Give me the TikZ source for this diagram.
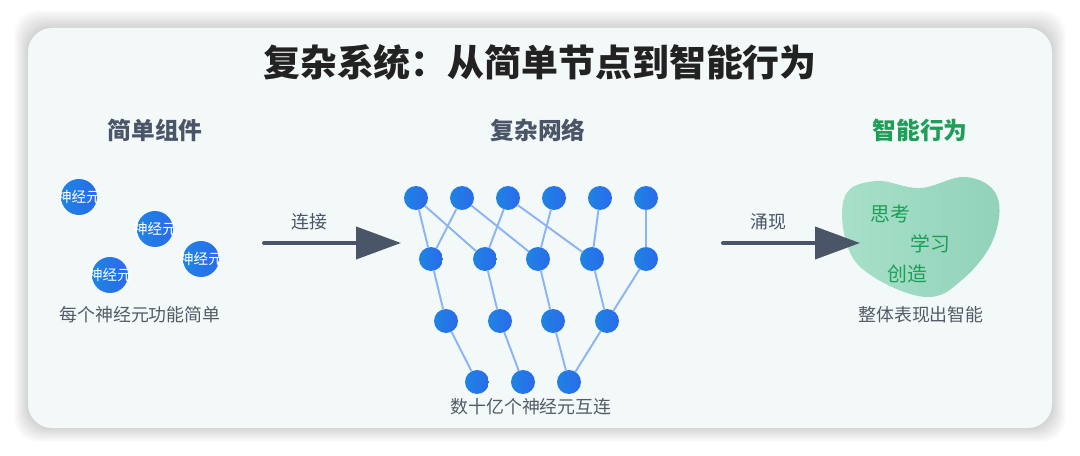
\documentclass[tikz,border=0pt]{standalone}
\usepackage{fontspec}
\setmainfont{Noto Sans CJK SC}
\usetikzlibrary{arrows.meta}
\definecolor{cardbg}{HTML}{F3F9F9}
\definecolor{slate}{HTML}{4A5568}
\definecolor{titleink}{HTML}{222222}
\definecolor{edgeblue}{HTML}{8DB4F2}
\definecolor{nblue}{HTML}{1E84E2}
\definecolor{nblueb}{HTML}{2A6AEC}
\definecolor{leafgreen}{HTML}{A8E0C9}
\definecolor{leafgreenb}{HTML}{92D2BA}
\definecolor{txtgreen}{HTML}{1E9E57}
\definecolor{txtgray}{HTML}{555B66}
\tikzset{
  neuron/.style={circle, minimum size=0.72cm, inner sep=0pt, left color=nblue, right color=nblueb, text=white, font=\fontsize{8.3}{9}\selectfont},
  cell/.style={circle, minimum size=0.48cm, inner sep=0pt, left color=nblue, right color=nblueb},
  link/.style={edgeblue, line width=1.1pt},
  flow/.style={slate, line width=2.3pt, -{Triangle[length=0.9cm, width=0.64cm]}},
  head/.style={font=\bfseries\fontsize{13.5}{16}\selectfont, text=slate},
  caption/.style={font=\fontsize{10.2}{12}\selectfont, text=txtgray},
  idea/.style={font=\fontsize{11.3}{13}\selectfont, text=txtgreen}
}
\begin{document}
\begin{tikzpicture}[x=0.02cm, y=-0.02cm, line cap=round, line join=round]
\useasboundingbox (0,0) rectangle (1080,456);
\fill[white] (0,0) rectangle (1080,456);
\foreach \k in {1,...,14}
  \fill[black, opacity=0.012, rounded corners=0.48cm] (28-\k,28-1.3*\k) rectangle (1052+\k,428+\k);
\fill[cardbg, rounded corners=0.48cm] (28,28) rectangle (1052,428);
\node[font=\bfseries\fontsize{21}{25}\selectfont, text=titleink] (title) at (540,62) {复杂系统：从简单节点到智能行为};
\node[head] (h1) at (155,130) {简单组件};
\node[head] (h2) at (538,130) {复杂网络};
\node[head, text=txtgreen] (h3) at (920,130) {智能行为};
\node[neuron] (n1) at (79,197) {\makebox[0pt]{神经元}};
\node[neuron] (n2) at (155,229) {\makebox[0pt]{神经元}};
\node[neuron] (n3) at (201,259) {\makebox[0pt]{神经元}};
\node[neuron] (n4) at (110,275) {\makebox[0pt]{神经元}};
\node[caption] (c1) at (140,315) {每个神经元功能简单};
\coordinate (a1s) at (264,243);
\coordinate (a1e) at (401,243);
\draw[flow] (a1s) -- (a1e);
\node[caption, text=slate] (l1) at (309,222) {连接};
\foreach \x [count=\i] in {416,462,508,554,600,646}
  \node[cell] (t\i) at (\x,198) {};
\foreach \x [count=\i] in {431,485,538,592,646}
  \node[cell] (m\i) at (\x,259) {};
\foreach \x [count=\i] in {446,500,553,607}
  \node[cell] (b\i) at (\x,321) {};
\foreach \x [count=\i] in {477,523,569}
  \node[cell] (e\i) at (\x,382) {};
\foreach \a/\b in {t1/m1, t1/m2, t2/m1, t2/m3, t3/m2, t3/m4, t4/m3, t5/m4, t6/m5, m1/b1, m2/b2, m3/b3, m4/b4, m5/b4, b1/e1, b2/e2, b3/e3, b4/e3}
  \draw[link] (\a) -- (\b);
\node[caption] (c2) at (531,407) {数十亿个神经元互连};
\coordinate (a2s) at (723,243);
\coordinate (a2e) at (860,243);
\draw[left color=leafgreen, right color=leafgreenb, draw=none] plot[smooth cycle, tension=0.65] coordinates {(845,196) (876,181) (920,188) (966,177) (997,196) (993,240) (962,280) (926,297) (872,276) (847,245)};
\draw[flow] (a2s) -- (a2e);
\node[caption, text=slate] (l2) at (768,222) {涌现};
\node[idea] (i1) at (890,214) {思考};
\node[idea] (i2) at (930,244) {学习};
\node[idea] (i3) at (907,274) {创造};
\node[caption] (c3) at (921,315) {整体表现出智能};
\end{tikzpicture}
\end{document}
